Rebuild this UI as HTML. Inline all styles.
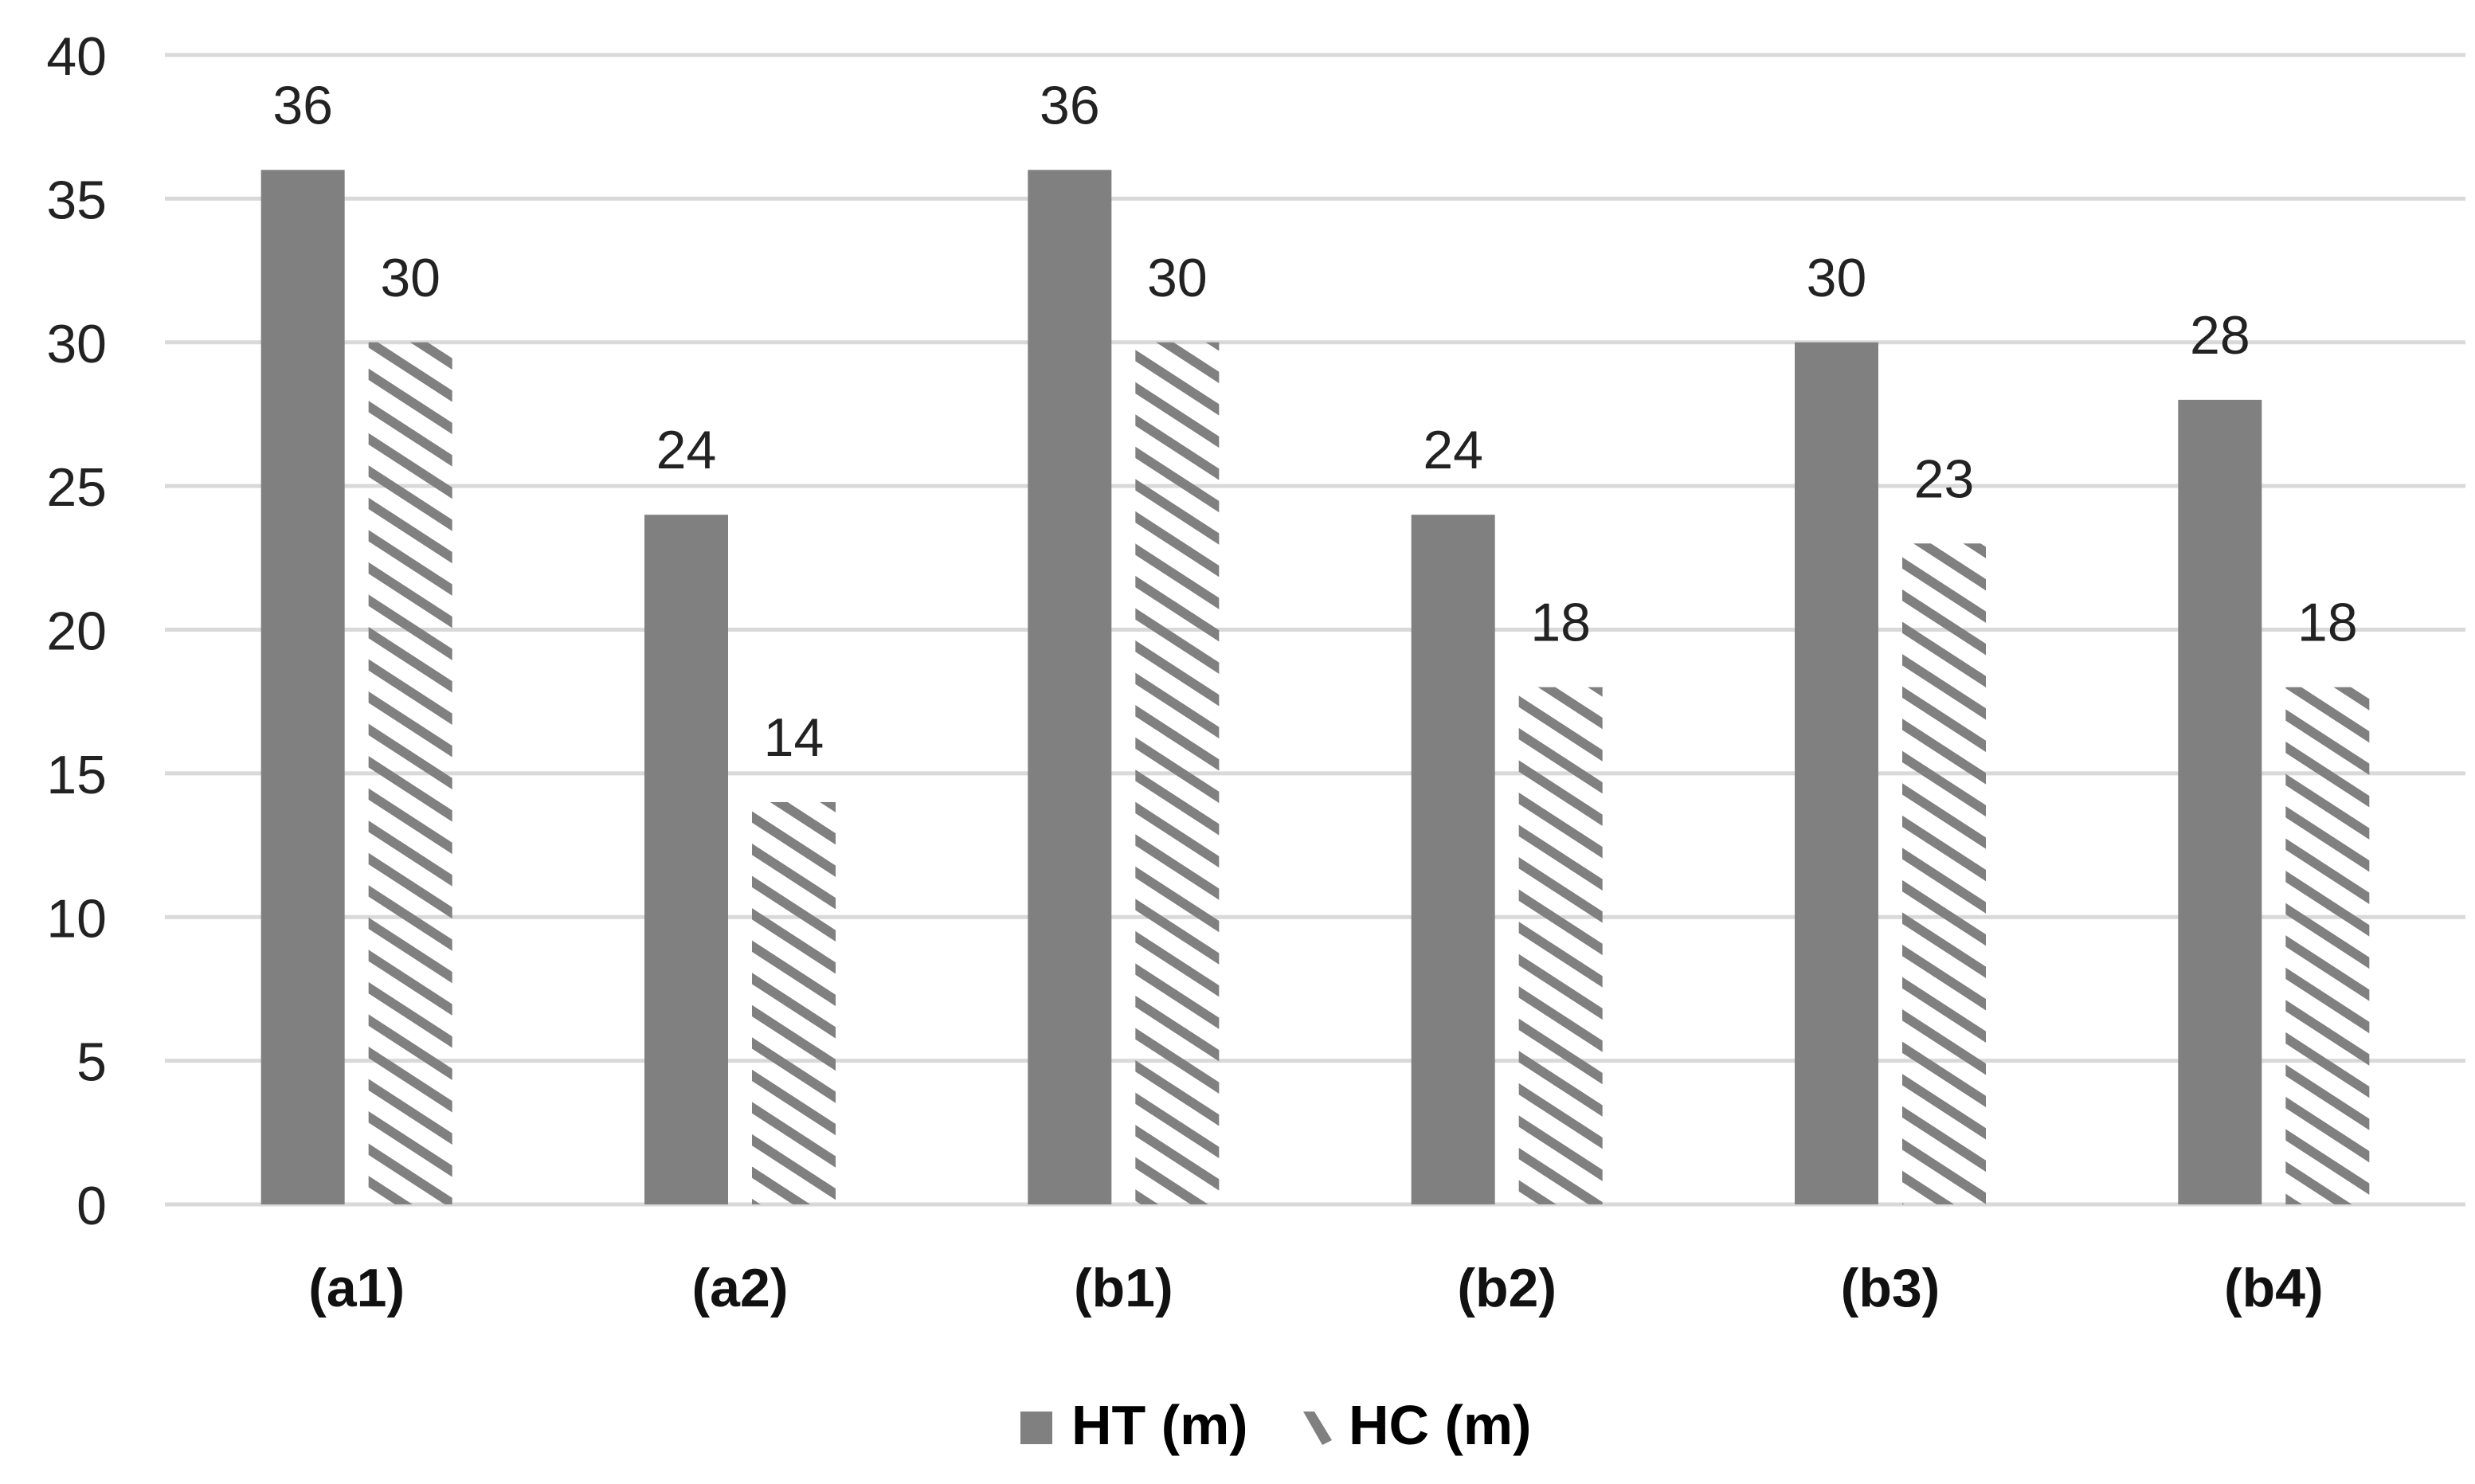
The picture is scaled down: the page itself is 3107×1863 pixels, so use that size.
<!DOCTYPE html>
<html><head><meta charset="utf-8"><style>
html,body{margin:0;padding:0;background:#fff;}
svg{display:block;font-family:"Liberation Sans",sans-serif;}
</style></head><body>
<svg id="chart" width="3107" height="1863" viewBox="0 0 3107 1863">
<defs>
<pattern id="hatch" patternUnits="userSpaceOnUse" width="34" height="34" patternTransform="rotate(33)">
<rect x="0" y="0" width="34" height="12" fill="#808080"/>
</pattern>
</defs>
<g id="grid"></g>
<g id="bars"></g>
<g id="labels"></g>
<g>
<rect x="1281" y="1772" width="40" height="41" fill="#808080"/>
<text x="1345" y="1813" font-size="70" font-weight="bold" fill="#000">HT (m)</text>
<polygon points="1636,1772 1650,1772 1672,1808 1660,1814" fill="#808080"/>
<text x="1693" y="1813" font-size="70" font-weight="bold" fill="#000">HC (m)</text>
</g>
</svg>
<script>
const categories = ["(a1)","(a2)","(b1)","(b2)","(b3)","(b4)"];
const htValues = [36,24,36,24,30,28];
const hcValues = [30,14,30,18,23,18];
const yTicks = [0,5,10,15,20,25,30,35,40];

const NS="http://www.w3.org/2000/svg";
const plotL=207, plotR=3095, y0=1512, y40=69;
const yMax=40;
const y=v=>y0-(v/yMax)*(y0-y40);
const band=(plotR-plotL)/categories.length;
const cx=i=>plotL+band*(i+0.5);
const barW=105, gap=30;
function mk(tag,attrs,parent){const e=document.createElementNS(NS,tag);for(const k in attrs)e.setAttribute(k,attrs[k]);parent.appendChild(e);return e;}
const grid=document.getElementById('grid'),bars=document.getElementById('bars'),labels=document.getElementById('labels');
yTicks.forEach(t=>{
  const l=mk('line',{x1:plotL,x2:plotR,y1:y(t),y2:y(t),stroke:'#d9d9d9','stroke-width':5},grid);
  
  
  const tx=mk('text',{x:134,y:y(t)+25,'font-size':68,'text-anchor':'end',fill:'#222'},grid);
  tx.textContent=t;
  
  
});
categories.forEach((c,i)=>{
  const xc=cx(i);
  const hx=xc-gap/2-barW, cxx=xc+gap/2;
  const b1=mk('rect',{x:hx,y:y(htValues[i]),width:barW,height:y0-y(htValues[i]),fill:'#808080'},bars);
  
  
  const b2=mk('rect',{x:cxx,y:y(hcValues[i]),width:barW,height:y0-y(hcValues[i]),fill:'url(#hatch)'},bars);
  
  
  const l1=mk('text',{x:hx+barW/2,y:y(htValues[i])-58,'font-size':68,'text-anchor':'middle',fill:'#222'},labels);
  l1.textContent=htValues[i];
  
  
  const l2=mk('text',{x:cxx+barW/2,y:y(hcValues[i])-58,'font-size':68,'text-anchor':'middle',fill:'#222'},labels);
  l2.textContent=hcValues[i];
  
  
  const cl=mk('text',{x:xc,y:1640,'font-size':68,'font-weight':'bold','text-anchor':'middle',fill:'#111'},labels);
  cl.textContent=c;
  
  
});
</script>
</body></html>
